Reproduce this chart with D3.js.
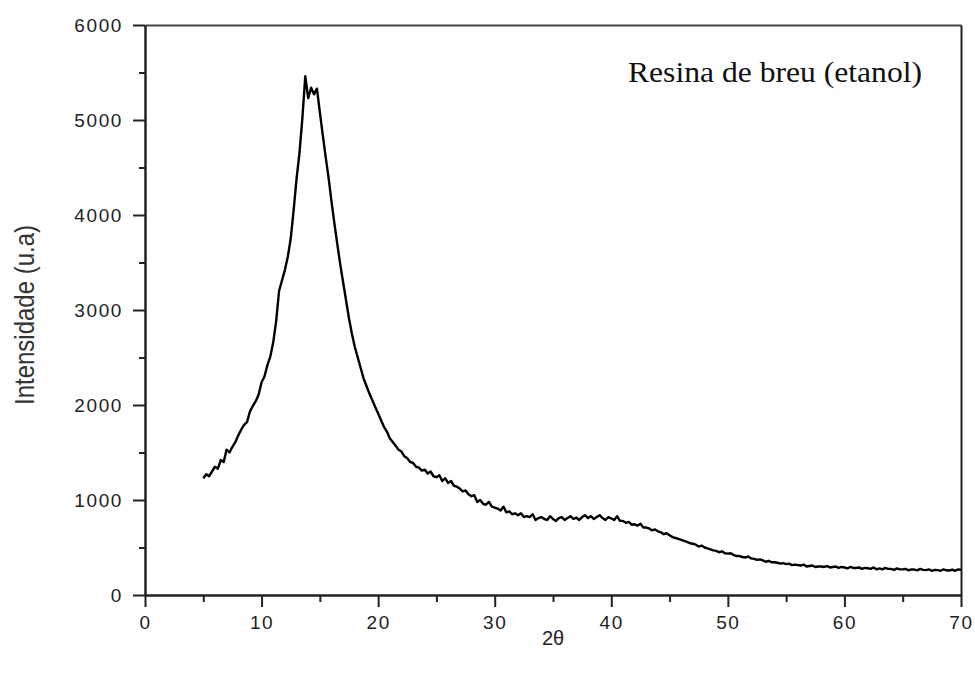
<html>
<head>
<meta charset="utf-8">
<script src="https://cdn.jsdelivr.net/npm/d3@7"></script>
<style>
  body { margin: 0; background: #fff; }
  .tick text { font-family: "Liberation Sans", Arial, sans-serif; font-size: 19px; letter-spacing: 1.6px; fill: #222; }
</style>
</head>
<body>
<div id="chart"></div>
<script>

var twoThetaStart = 5;
var twoThetaStep = 0.25;
var intensity = [
  1230, 1270, 1250, 1300,   // 5
  1350, 1330, 1420, 1400,   // 6
  1530, 1500, 1560, 1610,   // 7
  1680, 1740, 1790, 1820,   // 8
  1930, 1990, 2040, 2110,   // 9
  2240, 2300, 2420, 2510,   // 10
  2660, 2880, 3200, 3310,   // 11
  3420, 3560, 3750, 4050,   // 12
  4380, 4650, 5020, 5460,   // 13
  5230, 5340, 5270, 5330,   // 14
  5080, 4840, 4610, 4390,   // 15
  4140, 3910, 3690, 3480,   // 16
  3290, 3100, 2910, 2750,   // 17
  2610, 2500, 2390, 2280,   // 18
  2200, 2120, 2050, 1980,   // 19
  1910, 1840, 1770, 1720,   // 20
  1650, 1610, 1570, 1530,   // 21
  1510, 1460, 1440, 1400,   // 22
  1390, 1350, 1340, 1310,   // 23
  1320, 1280, 1300, 1250,   // 24
  1240, 1260, 1200, 1230,   // 25
  1180, 1200, 1150, 1140,   // 26
  1120, 1090, 1100, 1060,   // 27
  1040, 1050, 980, 1000,    // 28
  960, 950, 980, 930,       // 29
  920, 910, 890, 930,       // 30
  870, 880, 850, 860,       // 31
  840, 860, 820, 830,       // 32
  820, 850, 790, 810,       // 33
  820, 800, 790, 830,       // 34
  800, 780, 810, 820,       // 35
  790, 810, 830, 800,       // 36
  815, 790, 820, 840,       // 37
  810, 830, 800, 820,       // 38
  840, 810, 790, 820,       // 39
  805, 790, 830, 780,       // 40
  780, 760, 770, 740,       // 41
  745, 730, 750, 710,       // 42
  710, 700, 680, 690,       // 43
  670, 660, 640, 650,       // 44
  630, 610, 600, 590,       // 45
  580, 570, 560, 545,       // 46
  540, 530, 510, 520,       // 47
  500, 490, 480, 470,       // 48
  465, 450, 460, 440,       // 49
  435, 440, 420, 410,       // 50
  410, 400, 395, 405,       // 51
  385, 380, 370, 375,       // 52
  365, 350, 360, 345,       // 53
  345, 340, 330, 335,       // 54
  325, 330, 315, 320,       // 55
  315, 310, 320, 300,       // 56
  305, 310, 295, 300,       // 57
  300, 295, 305, 290,       // 58
  295, 300, 285, 295,       // 59
  290, 280, 295, 285,       // 60
  285, 290, 275, 285,       // 61
  282, 275, 290, 270,       // 62
  280, 270, 285, 275,       // 63
  275, 265, 280, 270,       // 64
  270, 275, 260, 270,       // 65
  268, 260, 275, 265,       // 66
  262, 270, 255, 265,       // 67
  262, 255, 270, 260,       // 68
  258, 268, 255, 270,       // 69
  265                       // 70
];

var xTicks = [0, 10, 20, 30, 40, 50, 60, 70];
var xMinorTicks = [5, 15, 25, 35, 45, 55, 65];
var yTicks = [0, 1000, 2000, 3000, 4000, 5000, 6000];
var yMinorTicks = [500, 1500, 2500, 3500, 4500, 5500];

var xTitle = "2θ";
var yTitle = "Intensidade (u.a)";
var sampleLabel = "Resina de breu (etanol)";

var width = 975, height = 675;
var margin = { top: 25, right: 14, bottom: 80, left: 145 };

var svg = d3.select("#chart").append("svg")
    .attr("width", width)
    .attr("height", height);

svg.append("rect").attr("width", width).attr("height", height).attr("fill", "#fff");

var x = d3.scaleLinear().domain([0, 70]).range([margin.left, width - margin.right]);
var y = d3.scaleLinear().domain([0, 6000]).range([height - margin.bottom, margin.top]);

function styleAxis(g) {
  g.select(".domain").attr("stroke", "#222").attr("stroke-width", 2);
  g.selectAll(".tick line").attr("stroke", "#222").attr("stroke-width", 2);
}

// frame: top and right
svg.append("g")
    .attr("transform", "translate(0," + margin.top + ")")
    .call(d3.axisTop(x).tickValues([]).tickSizeOuter(0))
    .call(styleAxis)
    .select(".domain").attr("stroke", "#444");

svg.append("g")
    .attr("transform", "translate(" + (width - margin.right) + ",0)")
    .call(d3.axisRight(y).tickValues([]).tickSizeOuter(0))
    .call(styleAxis);

// minor ticks
svg.append("g")
    .attr("transform", "translate(0," + (height - margin.bottom) + ")")
    .call(d3.axisBottom(x).tickValues(xMinorTicks).tickSize(7).tickFormat("").tickSizeOuter(0))
    .call(styleAxis);

svg.append("g")
    .attr("transform", "translate(" + margin.left + ",0)")
    .call(d3.axisLeft(y).tickValues(yMinorTicks).tickSize(6).tickFormat("").tickSizeOuter(0))
    .call(styleAxis);

// major axes
svg.append("g")
    .attr("transform", "translate(0," + (height - margin.bottom) + ")")
    .call(d3.axisBottom(x).tickValues(xTicks).tickSize(12).tickPadding(9).tickFormat(d3.format("d")).tickSizeOuter(0))
    .call(styleAxis);

svg.append("g")
    .attr("transform", "translate(" + margin.left + ",0)")
    .call(d3.axisLeft(y).tickValues(yTicks).tickSize(12).tickPadding(10).tickFormat(d3.format("d")).tickSizeOuter(0))
    .call(styleAxis);

// the pattern
var line = d3.line()
    .x(function(d, i) { return x(twoThetaStart + i * twoThetaStep); })
    .y(function(d) { return y(d); });

svg.append("path")
    .datum(intensity)
    .attr("d", line)
    .attr("fill", "none")
    .attr("stroke", "#000")
    .attr("stroke-width", 2.4)
    .attr("stroke-linejoin", "round");

// titles
svg.append("text")
    .attr("x", x(35))
    .attr("y", 645)
    .attr("text-anchor", "middle")
    .style("font-family", "'Liberation Sans', Arial, sans-serif")
    .style("font-size", "20px")
    .attr("fill", "#222")
    .text(xTitle);

svg.append("text")
    .attr("transform", "translate(34,315) rotate(-90)")
    .attr("text-anchor", "middle")
    .attr("textLength", 180)
    .attr("lengthAdjust", "spacingAndGlyphs")
    .style("font-family", "'Liberation Sans Narrow', 'Arial Narrow', 'Liberation Sans', sans-serif")
    .style("font-size", "28px")
    .attr("fill", "#333")
    .text(yTitle);

svg.append("text")
    .attr("x", 628)
    .attr("y", 82)
    .attr("textLength", 294)
    .attr("lengthAdjust", "spacingAndGlyphs")
    .style("font-family", "'Liberation Serif', 'Times New Roman', serif")
    .style("font-size", "29px")
    .attr("fill", "#111")
    .text(sampleLabel);

</script>
</body>
</html>
